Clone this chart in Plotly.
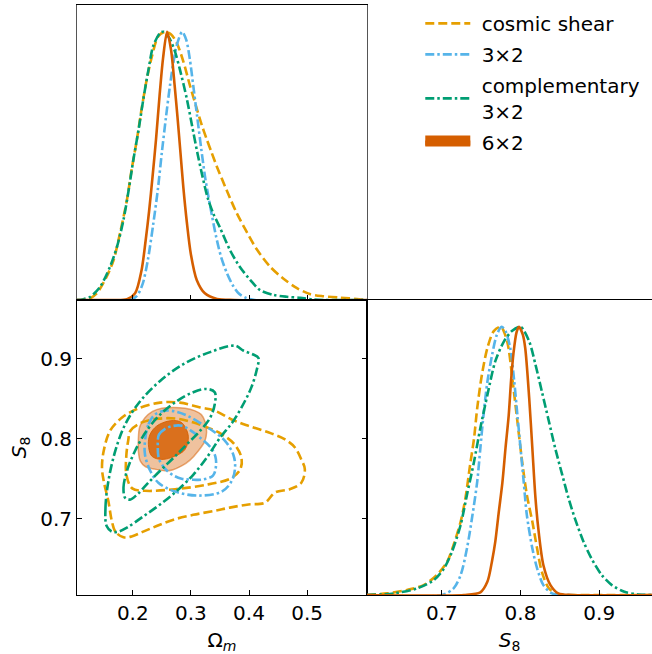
import plotly.graph_objects as go

# ---------------- colours ----------------
C_CS = "#E69F00"   # cosmic shear
C_32 = "#56B4E9"   # 3x2
C_C32 = "#009E73"  # complementary 3x2
C_62 = "#D55E00"   # 6x2

NB = "\u00a0"
names = [NB + "cosmic shear", NB + "3×2", NB + "complementary<br>" + NB + "3×2", NB + "6×2"]

# ---------------- 1D Omega_m posteriors (normalised to peak) ----------------
om_cs_x = [0.104, 0.121, 0.138, 0.155, 0.167, 0.178, 0.190, 0.198, 0.207, 0.215, 0.224, 0.233, 0.244, 0.256,
           0.266, 0.2756, 0.2869, 0.2983, 0.3099, 0.3183, 0.3271, 0.3356, 0.3442, 0.3614, 0.3786, 0.3958,
           0.413, 0.4359, 0.4588, 0.4818, 0.5046, 0.528, 0.556, 0.590, 0.603]
om_cs_y = [0.0, 0.0, 0.025, 0.087, 0.149, 0.249, 0.374, 0.486, 0.598, 0.71, 0.822, 0.909, 0.984, 1.0,
           0.99, 0.959, 0.89, 0.80, 0.715, 0.655, 0.60, 0.55, 0.50, 0.41, 0.325, 0.255,
           0.19, 0.125, 0.08, 0.045, 0.022, 0.014, 0.009, 0.003, 0.0]

om_32_x = [0.104, 0.195, 0.207, 0.217, 0.226, 0.235, 0.243, 0.250, 0.257, 0.264, 0.271, 0.277, 0.285,
           0.292, 0.298, 0.304, 0.311, 0.318, 0.325, 0.334, 0.343, 0.352, 0.362, 0.372, 0.382, 0.395,
           0.410, 0.603]
om_32_y = [0.0, 0.0, 0.015, 0.06, 0.15, 0.28, 0.41, 0.55, 0.68, 0.8, 0.9, 0.96, 1.0,
           0.97, 0.9, 0.8, 0.68, 0.56, 0.45, 0.34, 0.24, 0.16, 0.1, 0.055, 0.025, 0.008,
           0.0, 0.0]

om_c32_x = [0.104, 0.115, 0.127, 0.144, 0.161, 0.173, 0.184, 0.193, 0.201, 0.210, 0.218, 0.227, 0.235,
            0.247, 0.253, 0.262, 0.272, 0.281, 0.293, 0.302, 0.311, 0.320, 0.329, 0.339, 0.350, 0.367,
            0.384, 0.402, 0.419, 0.442, 0.465, 0.488, 0.510, 0.530, 0.603]
om_c32_y = [0.0, 0.003, 0.012, 0.05, 0.125, 0.2, 0.299, 0.411, 0.523, 0.635, 0.747, 0.859, 0.946,
            0.996, 1.0, 0.98, 0.93, 0.86, 0.75, 0.65, 0.55, 0.46, 0.38, 0.32, 0.27, 0.187,
            0.124, 0.075, 0.037, 0.019, 0.012, 0.008, 0.002, 0.0, 0.0]

om_62_x = [0.104, 0.165, 0.190, 0.204, 0.215, 0.222, 0.228, 0.234, 0.240, 0.246, 0.252, 0.259,
           0.266, 0.272, 0.277, 0.282, 0.287, 0.293, 0.300, 0.310, 0.324, 0.345, 0.375, 0.603]
om_62_y = [0.0, 0.0, 0.003, 0.025, 0.11, 0.22, 0.33, 0.46, 0.6, 0.76, 0.9, 1.0,
           0.93, 0.8, 0.68, 0.55, 0.42, 0.29, 0.17, 0.075, 0.025, 0.004, 0.0, 0.0]

# ---------------- 1D S8 posteriors ----------------
s8_cs_x = [0.605, 0.631, 0.656, 0.677, 0.694, 0.707, 0.715, 0.724, 0.730, 0.736, 0.741, 0.745, 0.751,
           0.758, 0.766, 0.775, 0.783, 0.790, 0.796, 0.802, 0.808, 0.815, 0.821, 0.827, 0.836, 0.848,
           0.865, 0.967]
s8_cs_y = [0.0, 0.006, 0.019, 0.037, 0.075, 0.125, 0.187, 0.274, 0.361, 0.486, 0.585, 0.697, 0.822,
           0.922, 0.984, 1.0, 0.946, 0.797, 0.648, 0.498, 0.374, 0.274, 0.174, 0.087, 0.025, 0.002,
           0.0, 0.0]

s8_32_x = [0.605, 0.700, 0.715, 0.724, 0.732, 0.739, 0.745, 0.749, 0.753, 0.758, 0.764, 0.770, 0.776,
           0.781, 0.787, 0.792, 0.796, 0.800, 0.804, 0.808, 0.815, 0.821, 0.829, 0.840, 0.857, 0.967]
s8_32_y = [0.0, 0.0, 0.025, 0.075, 0.174, 0.299, 0.423, 0.548, 0.672, 0.797, 0.897, 0.971, 1.0,
           0.984, 0.92, 0.797, 0.672, 0.548, 0.423, 0.299, 0.174, 0.1, 0.037, 0.006, 0.0, 0.0]

s8_c32_x = [0.605, 0.639, 0.669, 0.690, 0.703, 0.713, 0.724, 0.732, 0.741, 0.749, 0.758, 0.768, 0.779,
            0.789, 0.800, 0.811, 0.819, 0.827, 0.836, 0.844, 0.853, 0.861, 0.869, 0.880, 0.890, 0.903,
            0.916, 0.932, 0.949, 0.967]
s8_c32_y = [0.0, 0.006, 0.025, 0.056, 0.1, 0.162, 0.262, 0.374, 0.498, 0.623, 0.747, 0.872, 0.946,
            0.984, 1.0, 0.946, 0.859, 0.76, 0.648, 0.548, 0.448, 0.361, 0.286, 0.199, 0.137, 0.075,
            0.037, 0.012, 0.002, 0.0]

s8_62_x = [0.605, 0.728, 0.749, 0.758, 0.764, 0.768, 0.772, 0.777, 0.781, 0.785, 0.788, 0.791, 0.795,
           0.798, 0.803, 0.806, 0.811, 0.815, 0.819, 0.823, 0.829, 0.838, 0.848, 0.865, 0.967]
s8_62_y = [0.0, 0.0, 0.01, 0.05, 0.13, 0.2, 0.3, 0.42, 0.55, 0.67, 0.8, 0.9, 0.98,
           1.0, 0.97, 0.92, 0.735, 0.548, 0.361, 0.237, 0.112, 0.037, 0.006, 0.0, 0.0]

# ---------------- 2D contours (Omega_m, S8) ----------------
cs_out_om = [0.184, 0.170, 0.164, 0.158, 0.150, 0.147, 0.150, 0.161, 0.181, 0.207, 0.247, 0.281, 0.316,
             0.341, 0.370, 0.399, 0.433, 0.462, 0.479, 0.490, 0.496, 0.490, 0.470, 0.445, 0.427, 0.399,
             0.367, 0.341, 0.304, 0.270, 0.241, 0.218, 0.198, 0.184]
cs_out_s8 = [0.677, 0.684, 0.697, 0.722, 0.747, 0.764, 0.785, 0.810, 0.826, 0.837, 0.845, 0.845, 0.839,
             0.835, 0.824, 0.816, 0.808, 0.799, 0.789, 0.774, 0.762, 0.745, 0.737, 0.733, 0.720, 0.718,
             0.714, 0.710, 0.705, 0.699, 0.691, 0.684, 0.678, 0.677]
cs_in_om = [0.192, 0.196, 0.215, 0.245, 0.275, 0.300, 0.325, 0.352, 0.375, 0.387, 0.385, 0.370, 0.330,
            0.273, 0.221, 0.199, 0.189, 0.189, 0.192]
cs_in_s8 = [0.797, 0.810, 0.820, 0.825, 0.825, 0.821, 0.815, 0.806, 0.793, 0.776, 0.762, 0.751, 0.743,
            0.737, 0.735, 0.738, 0.755, 0.780, 0.797]

x32_out_om = [0.221, 0.227, 0.238, 0.256, 0.278, 0.301, 0.324, 0.341, 0.359, 0.373, 0.376, 0.370, 0.353,
              0.313, 0.273, 0.244, 0.230, 0.221, 0.221]
x32_out_s8 = [0.797, 0.818, 0.830, 0.835, 0.833, 0.826, 0.816, 0.808, 0.797, 0.780, 0.764, 0.747, 0.734,
              0.729, 0.734, 0.745, 0.760, 0.780, 0.797]
x32_in_om = [0.243, 0.245, 0.255, 0.270, 0.285, 0.300, 0.318, 0.333, 0.342, 0.343, 0.338, 0.320, 0.300,
             0.284, 0.268, 0.255, 0.245, 0.243]
x32_in_s8 = [0.790, 0.805, 0.812, 0.816, 0.816, 0.810, 0.800, 0.790, 0.778, 0.765, 0.754, 0.749, 0.749,
             0.750, 0.755, 0.763, 0.775, 0.790]

c32_out_om = [0.155, 0.153, 0.158, 0.170, 0.187, 0.213, 0.247, 0.287, 0.333, 0.376, 0.390, 0.407, 0.416,
              0.413, 0.404, 0.393, 0.373, 0.350, 0.327, 0.304, 0.276, 0.247, 0.218, 0.190, 0.175, 0.164,
              0.155]
c32_out_s8 = [0.691, 0.714, 0.747, 0.785, 0.818, 0.847, 0.872, 0.893, 0.908, 0.916, 0.910, 0.905, 0.901,
              0.885, 0.864, 0.847, 0.822, 0.801, 0.776, 0.755, 0.735, 0.718, 0.703, 0.689, 0.684, 0.684,
              0.691]
c32_in_om = [0.187, 0.184, 0.190, 0.204, 0.224, 0.247, 0.276, 0.304, 0.327, 0.341, 0.341, 0.333, 0.316,
             0.293, 0.270, 0.247, 0.224, 0.207, 0.195, 0.187]
c32_in_s8 = [0.726, 0.739, 0.760, 0.785, 0.810, 0.830, 0.847, 0.858, 0.862, 0.858, 0.843, 0.826, 0.810,
             0.793, 0.776, 0.760, 0.743, 0.730, 0.724, 0.726]

x62_out_om = [0.2096, 0.212, 0.221, 0.234, 0.250, 0.270, 0.290, 0.306, 0.318, 0.325, 0.327, 0.324, 0.313,
              0.298, 0.284, 0.268, 0.255, 0.238, 0.222, 0.213, 0.2096, 0.2096]
x62_out_s8 = [0.800, 0.815, 0.826, 0.834, 0.838, 0.839, 0.838, 0.835, 0.830, 0.820, 0.808, 0.797, 0.785,
              0.773, 0.766, 0.761, 0.760, 0.762, 0.765, 0.772, 0.785, 0.800]
x62_in_om = [0.2268, 0.2297, 0.2412, 0.2612, 0.2784, 0.287, 0.2956, 0.2899, 0.2727, 0.2498, 0.2326, 0.2268]
x62_in_s8 = [0.793, 0.8054, 0.8158, 0.822, 0.822, 0.818, 0.803, 0.7866, 0.7783, 0.7741, 0.7783, 0.793]

# ---------------- axis settings ----------------
OM_RANGE = [0.104, 0.603]
S8_RANGE = [0.605, 0.973]
S8_RANGE_X = [0.605, 0.967]
FONT = "DejaVu Sans"

fig = go.Figure()

DASH_CS = "9px,4px"
DASH_DD = "9px,3px,2.5px,3px"
LW = 2.6


def line_trace(x, y, color, dash, xa, ya, name, show, group):
    return go.Scatter(x=x, y=y, mode="lines",
                      line=dict(color=color, width=LW, dash=dash, shape="spline", smoothing=0.8),
                      xaxis=xa, yaxis=ya, name=name, showlegend=show, legendgroup=group, hoverinfo="skip")


# top-left: Omega_m 1D
fig.add_trace(line_trace(om_cs_x, om_cs_y, C_CS, DASH_CS, "x", "y", names[0], True, "cs"))
fig.add_trace(line_trace(om_32_x, om_32_y, C_32, DASH_DD, "x", "y", names[1], True, "32"))
fig.add_trace(line_trace(om_c32_x, om_c32_y, C_C32, DASH_DD, "x", "y", names[2], True, "c32"))
fig.add_trace(line_trace(om_62_x, om_62_y, C_62, "solid", "x", "y", names[3], False, "62"))

# bottom-right: S8 1D
fig.add_trace(line_trace(s8_cs_x, s8_cs_y, C_CS, DASH_CS, "x3", "y3", names[0], False, "cs"))
fig.add_trace(line_trace(s8_32_x, s8_32_y, C_32, DASH_DD, "x3", "y3", names[1], False, "32"))
fig.add_trace(line_trace(s8_c32_x, s8_c32_y, C_C32, DASH_DD, "x3", "y3", names[2], False, "c32"))
fig.add_trace(line_trace(s8_62_x, s8_62_y, C_62, "solid", "x3", "y3", names[3], False, "62"))

# bottom-left: 2D contours
fig.add_trace(go.Scatter(x=x62_out_om, y=x62_out_s8, mode="lines", fill="toself",
                         fillcolor="rgba(213,94,0,0.38)",
                         line=dict(color="rgba(213,94,0,0.5)", width=1.5, shape="spline", smoothing=1.0),
                         xaxis="x2", yaxis="y2", showlegend=False, legendgroup="62", hoverinfo="skip"))
fig.add_trace(go.Scatter(x=x62_in_om, y=x62_in_s8, mode="lines", fill="toself",
                         fillcolor="rgba(213,94,0,0.82)",
                         line=dict(color="rgba(213,94,0,0.85)", width=1, shape="spline", smoothing=1.0),
                         xaxis="x2", yaxis="y2", showlegend=False, legendgroup="62", hoverinfo="skip"))
for xs, ys, c, d in [(cs_out_om, cs_out_s8, C_CS, DASH_CS), (cs_in_om, cs_in_s8, C_CS, DASH_CS),
                     (x32_out_om, x32_out_s8, C_32, DASH_DD), (x32_in_om, x32_in_s8, C_32, DASH_DD),
                     (c32_out_om, c32_out_s8, C_C32, DASH_DD), (c32_in_om, c32_in_s8, C_C32, DASH_DD)]:
    fig.add_trace(go.Scatter(x=xs, y=ys, mode="lines",
                             line=dict(color=c, width=LW, dash=d, shape="spline", smoothing=1.0),
                             xaxis="x2", yaxis="y2", showlegend=False, hoverinfo="skip"))

# legend entry for 6x2 (filled patch)
fig.add_trace(go.Scatter(x=[None], y=[None], mode="lines", fill="toself", fillcolor=C_62,
                         line=dict(color=C_62, width=13),
                         xaxis="x2", yaxis="y2", name=names[3], showlegend=True, legendgroup="62",
                         hoverinfo="skip"))

XL = [77 / 652, 367 / 652]
XR = [367 / 652, 1.0]
YT = [1 - 300 / 654, 1 - 5 / 654]
YB = [1 - 595 / 654, 1 - 300 / 654]

tickfont = dict(family=FONT, size=20, color="black")
common = dict(showgrid=False, zeroline=False, showline=True, linecolor="black", linewidth=1,
              ticks="inside", ticklen=5, tickwidth=1, tickcolor="black", tickfont=tickfont)

fig.update_layout(
    width=652, height=654, margin=dict(l=0, r=0, t=0, b=0),
    paper_bgcolor="white", plot_bgcolor="white",
    font=dict(family=FONT, size=20, color="black"),
    xaxis=dict(domain=XL, range=OM_RANGE, anchor="y", tickvals=[0.2, 0.3, 0.4, 0.5],
               showticklabels=False, mirror=True, **common),
    yaxis=dict(domain=YT, range=[0, 1.10], anchor="x", showgrid=False, zeroline=False,
               showline=True, linecolor="#555", linewidth=1, mirror=True, ticks="", showticklabels=False),
    xaxis2=dict(domain=XL, range=OM_RANGE, anchor="y2", tickvals=[0.2, 0.3, 0.4, 0.5],
                ticktext=["0.2", "0.3", "0.4", "0.5"], mirror=True,
                title=dict(text="Ω<sub><i>m</i></sub>", font=dict(family=FONT, size=20), standoff=8), **common),
    yaxis2=dict(domain=YB, range=S8_RANGE, anchor="x2", tickvals=[0.7, 0.8, 0.9],
                ticktext=["0.7", "0.8", "0.9"], mirror="ticks",
                title=dict(text="<i>S</i><sub>8</sub>", font=dict(family=FONT, size=20), standoff=8), **common),
    xaxis3=dict(domain=XR, range=S8_RANGE_X, anchor="y3", tickvals=[0.7, 0.8, 0.9],
                ticktext=["0.7", "0.8", "0.9"], mirror=True,
                title=dict(text="<i>S</i><sub>8</sub>", font=dict(family=FONT, size=20), standoff=8), **common),
    yaxis3=dict(domain=YB, range=[0, 1.10], anchor="x3", showgrid=False, zeroline=False,
                showline=True, linecolor="black", linewidth=1, ticks="", showticklabels=False),
    legend=dict(x=0.6446, y=0.994, xanchor="left", yanchor="top", bgcolor="rgba(0,0,0,0)",
                font=dict(family=FONT, size=20, color="black"), itemwidth=45, tracegroupgap=2,
                traceorder="grouped"),
)

fig.write_html("out.html")
